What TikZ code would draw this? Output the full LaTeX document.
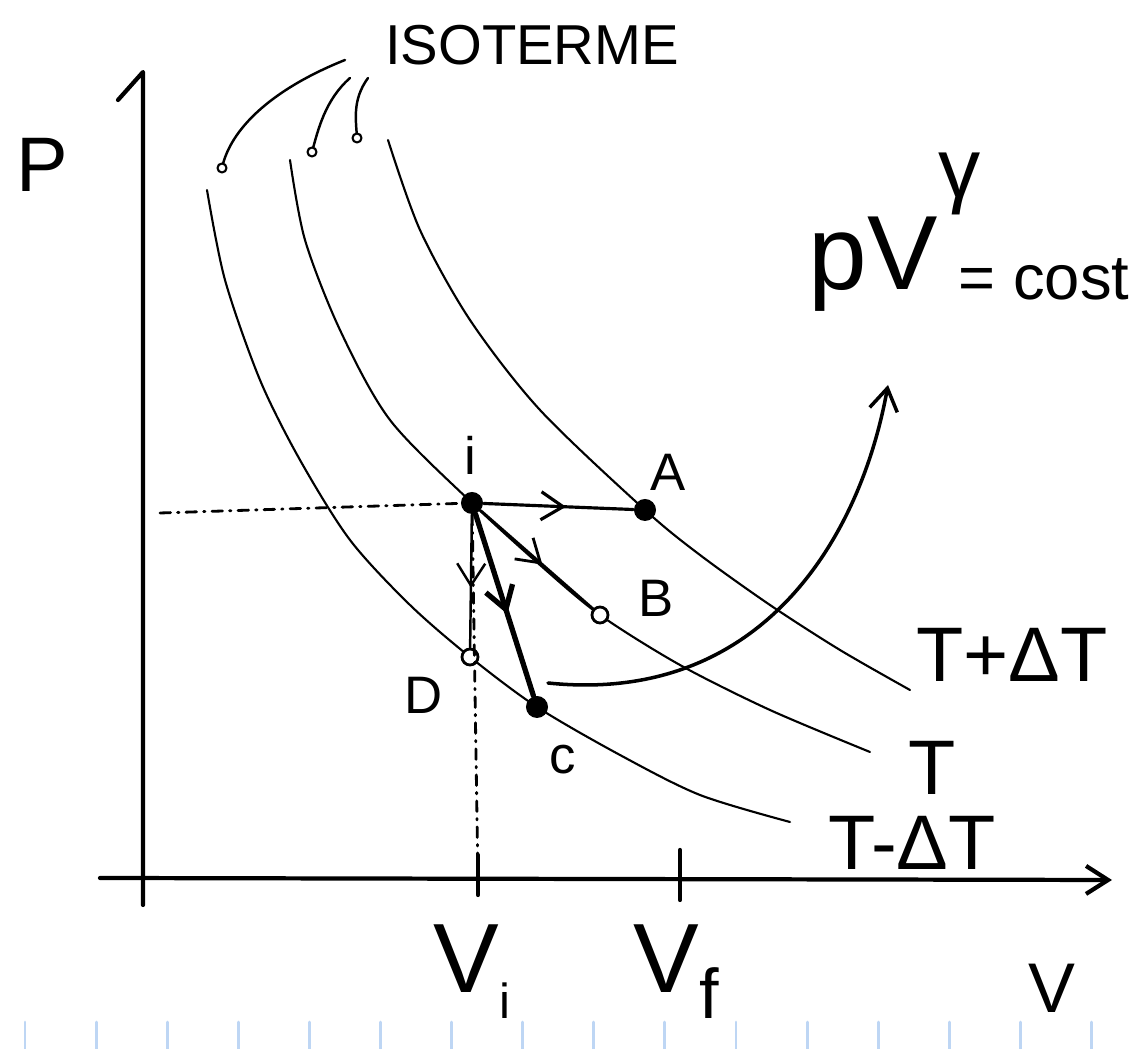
\documentclass[tikz,border=0pt]{standalone}
\usepackage{fontspec}
\setmainfont{Liberation Sans}
\usetikzlibrary{arrows.meta,decorations.markings,positioning}
\definecolor{ruleblue}{RGB}{190,214,244}

\begin{document}
\begin{tikzpicture}[x=0.01cm, y=-0.01cm, >={Straight Barb[length=2.2mm,width=2.8mm]}, line cap=round, line join=round]
    \tikzset{
        axis/.style={line width=1.2pt},
        isotherm/.style={line width=0.6pt},
        guide/.style={dash dot, line width=0.8pt},
        leader/.style={line width=0.7pt},
        fullpt/.style={circle, fill, inner sep=0pt, minimum size=2.2mm},
        openpt/.style={circle, draw, fill=white, line width=0.8pt, inner sep=0pt, minimum size=1.6mm},
        endpt/.style={circle, draw, fill=white, line width=0.6pt, inner sep=0pt, minimum size=0.9mm},
        midarrow/.style={postaction={decorate}, decoration={markings, mark=at position #1 with {\arrow{>}}}},
        ptlabel/.style={font=\fontsize{15}{17}\selectfont},
        tlabel/.style={font=\fontsize{22}{24}\selectfont},
        vlabel/.style={font=\fontsize{28}{30}\selectfont}
    }
    \useasboundingbox (0,0) rectangle (1138,1049);

    % notebook ruling
    \foreach \k in {0,...,15}
        \draw[ruleblue, line width=0.8pt] ({25+71.1*\k},1022) -- ({25+71.1*\k},1049);

    % axes
    \coordinate (orig) at (143,878);
    \coordinate (vi) at (478,880);
    \coordinate (vf) at (680,880);
    \draw[axis] (118,100) -- (143,72) -- (143,905);
    \draw[axis, ->] (100,878) -- (1112,880);
    \draw[axis] (478,855) -- (478,895);
    \draw[axis] (680,850) -- (680,900);
    \node[tlabel] (plbl) at (42,165) {P};
    \node[vlabel] (vilbl) at (472,972) {V\raisebox{-0.5ex}{\fontsize{14}{16}\selectfont i}};
    \node[vlabel] (vflbl) at (676,972) {V\raisebox{-0.5ex}{\fontsize{20}{22}\selectfont f}};
    \node[font=\fontsize{20}{22}\selectfont] (vlbl) at (1052,988) {V};

    % isotherms
    \draw[isotherm] plot[smooth] coordinates {(207,190) (225,280) (260,380) (300,460) (350,540) (410,605) (470,657) (537,707) (620,755) (700,795) (790,822)};
    \draw[isotherm] plot[smooth] coordinates {(290,160) (305,240) (340,330) (390,420) (472,503) (540,565) (600,615) (680,665) (770,710) (870,752)};
    \draw[isotherm] plot[smooth] coordinates {(388,140) (420,230) (470,320) (540,410) (645,510) (700,555) (770,605) (840,650) (910,690)};
    \node[tlabel] (tplus) at (1012,655) {T+ΔT};
    \node[tlabel] (tmid) at (932,768) {T};
    \node[tlabel] (tminus) at (912,843) {T-ΔT};

    % label of the isotherms
    \node[font=\fontsize{16}{18}\selectfont] (iso) at (532,45) {ISOTERME};
    \coordinate (e1) at (222,168);
    \coordinate (e2) at (312,152);
    \coordinate (e3) at (357,138);
    \draw[leader] (345,60) .. controls (270,90) and (230,130) .. (e1);
    \draw[leader] (350,78) .. controls (325,100) and (318,130) .. (e2);
    \draw[leader] (368,78) .. controls (352,100) and (356,120) .. (e3);
    \node[endpt] at (e1) {};
    \node[endpt] at (e2) {};
    \node[endpt] at (e3) {};

    % states
    \node[fullpt] (i) at (472,503) {};
    \node[fullpt] (A) at (645,510) {};
    \node[openpt] (B) at (600,615) {};
    \node[fullpt] (C) at (537,707) {};
    \node[openpt] (D) at (470,657) {};
    \node[ptlabel] at (470,455) {i};
    \node[ptlabel] at (668,472) {A};
    \node[ptlabel] at (656,598) {B};
    \node[ptlabel] at (563,760) {c};
    \node[ptlabel] at (424,695) {D};

    % guides
    \draw[guide] (160,513) -- (i);
    \draw[guide] (i) -- (vi);

    % transformations
    \draw[line width=0.9pt, midarrow=0.55] (i) -- (A);
    \draw[line width=0.8pt, midarrow=0.55] (i) -- (B);
    \draw[line width=1.5pt, midarrow=0.55] (i) -- (C);
    \draw[line width=0.7pt, midarrow=0.55] (i) -- (D);

    % adiabatic
    \node[anchor=base west, inner sep=0pt, font=\fontsize{30}{32}\selectfont] (pv) at (808,290) {pV};
    \node[anchor=base west, inner sep=0pt, font=\fontsize{24}{26}\selectfont] (gam) at (938,198) {γ};
    \node[anchor=base west, inner sep=0pt, font=\fontsize{18}{20}\selectfont] (cost) at (958,300) {= cost};
    \coordinate (tail) at (548,683);
    \coordinate (tip) at (888,385);
    \draw[line width=1pt, ->] (tail) .. controls (760,705) and (860,540) .. (tip);
\end{tikzpicture}
\end{document}
